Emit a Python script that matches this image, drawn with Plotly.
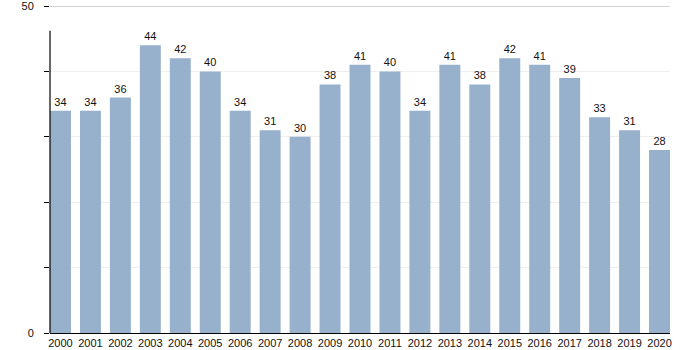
import plotly.graph_objects as go

years = [str(y) for y in range(2000, 2021)]
values = [34, 34, 36, 44, 42, 40, 34, 31, 30, 38, 41, 40, 34, 41, 38, 42, 41, 39, 33, 31, 28]
y_tick_vals = [0, 10, 20, 30, 40, 50]
y_tick_text = ["0", "", "", "", "", "50"]

BAR_COLOR = "#97b1cc"
FONT = "Liberation Sans, Arial, sans-serif"

fig = go.Figure(
    go.Bar(
        x=years,
        y=values,
        text=[str(v) for v in values],
        textposition="outside",
        textfont=dict(family=FONT, size=11, color="#111"),
        marker=dict(color=BAR_COLOR, line=dict(width=0)),
        width=0.7,
        cliponaxis=False,
    )
)

fig.update_layout(
    width=700,
    height=350,
    margin=dict(l=50, r=30, t=6, b=17, autoexpand=False),
    paper_bgcolor="white",
    plot_bgcolor="white",
    showlegend=False,
    font=dict(family=FONT, size=11, color="#111"),
    bargap=0.3,
    xaxis=dict(
        type="category",
        range=[-0.35, 20.35],
        showline=True,
        linecolor="#000",
        linewidth=1,
        ticks="",
        showgrid=False,
        tickfont=dict(size=11),
        ticklabelstandoff=0,
        automargin=False,
    ),
    yaxis=dict(
        range=[0, 50],
        tickvals=y_tick_vals,
        ticktext=y_tick_text,
        ticks="outside",
        ticklen=5,
        tickcolor="#000",
        ticklabelstandoff=8,
        ticklabeloverflow="allow",
        automargin=False,
        showline=False,
        showgrid=True,
        gridcolor="#efefef",
        gridwidth=1,
        zeroline=False,
        tickfont=dict(size=11),
    ),
)

# top reference line at 50
fig.add_shape(type="line", xref="paper", yref="y", x0=0, x1=1, y0=50, y1=50,
              line=dict(color="#a8a8a8", width=1.2), layer="below")
# left axis rule
fig.add_shape(type="line", xref="paper", yref="y", x0=0, x1=0, y0=0, y1=46.2,
              line=dict(color="#000", width=1.2), layer="above")

fig.write_html("out.html")
